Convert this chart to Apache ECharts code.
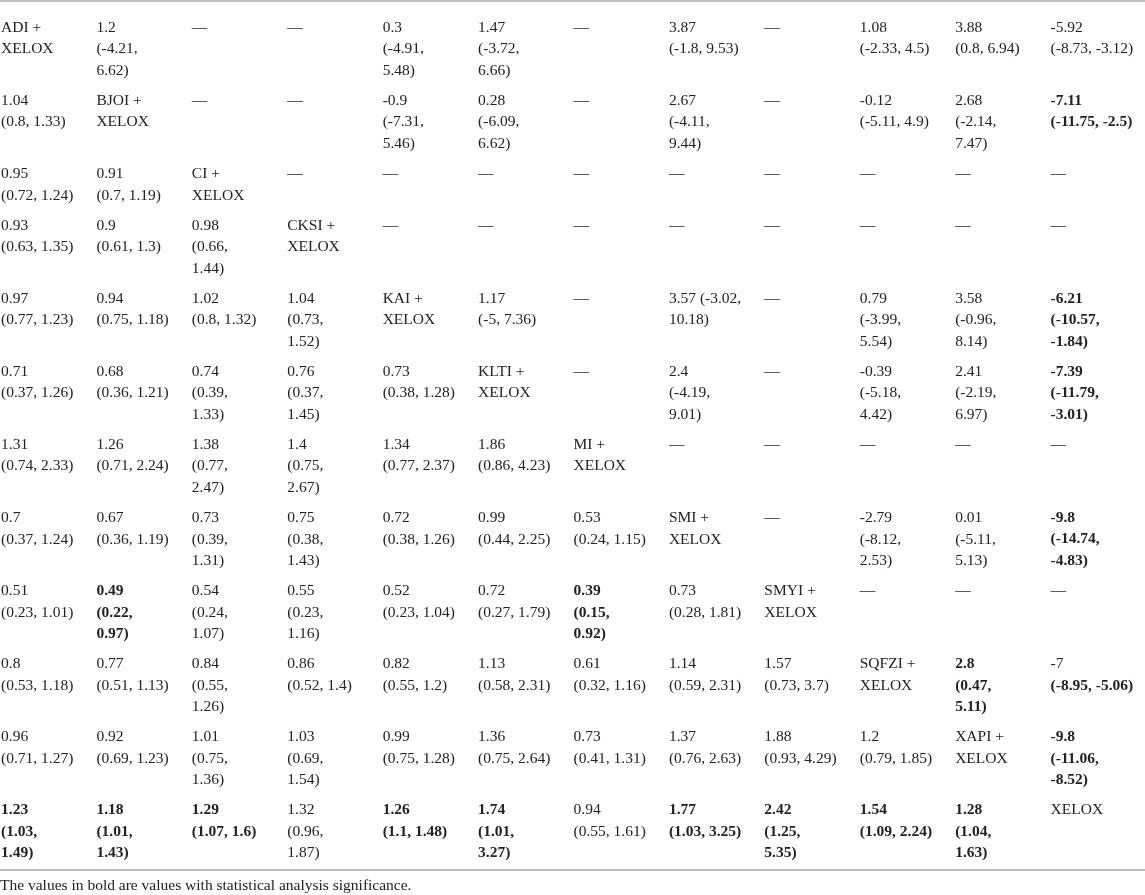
<!DOCTYPE html>
<html>
<head>
<meta charset="utf-8">
<script src="https://cdn.jsdelivr.net/npm/echarts@6.0.0/dist/echarts.min.js"></script>
<style>
html, body { margin: 0; padding: 0; background: #fff; }
#main { width: 1145px; height: 895px; }
</style>
</head>
<body>
<div id="main"></div>
<script>
// 方案名称（列顺序）
const regimens = ['ADI', 'BJOI', 'CI', 'CKSI', 'KAI', 'KLTI', 'MI', 'SMI', 'SMYI', 'SQFZI', 'XAPI', 'XELOX']

// 表格各行，对角线为方案名称，换行按原表
const row0 = ['ADI +\nXELOX', '1.2\n(-4.21,\n6.62)', '—', '—', '0.3\n(-4.91,\n5.48)', '1.47\n(-3.72,\n6.66)', '—', '3.87\n(-1.8, 9.53)', '—', '1.08\n(-2.33, 4.5)', '3.88\n(0.8, 6.94)', '-5.92\n(-8.73, -3.12)']
const row1 = ['1.04\n(0.8, 1.33)', 'BJOI +\nXELOX', '—', '—', '-0.9\n(-7.31,\n5.46)', '0.28\n(-6.09,\n6.62)', '—', '2.67\n(-4.11,\n9.44)', '—', '-0.12\n(-5.11, 4.9)', '2.68\n(-2.14,\n7.47)', '-7.11\n(-11.75, -2.5)']
const row2 = ['0.95\n(0.72, 1.24)', '0.91\n(0.7, 1.19)', 'CI +\nXELOX', '—', '—', '—', '—', '—', '—', '—', '—', '—']
const row3 = ['0.93\n(0.63, 1.35)', '0.9\n(0.61, 1.3)', '0.98\n(0.66,\n1.44)', 'CKSI +\nXELOX', '—', '—', '—', '—', '—', '—', '—', '—']
const row4 = ['0.97\n(0.77, 1.23)', '0.94\n(0.75, 1.18)', '1.02\n(0.8, 1.32)', '1.04\n(0.73,\n1.52)', 'KAI +\nXELOX', '1.17\n(-5, 7.36)', '—', '3.57 (-3.02,\n10.18)', '—', '0.79\n(-3.99,\n5.54)', '3.58\n(-0.96,\n8.14)', '-6.21\n(-10.57,\n-1.84)']
const row5 = ['0.71\n(0.37, 1.26)', '0.68\n(0.36, 1.21)', '0.74\n(0.39,\n1.33)', '0.76\n(0.37,\n1.45)', '0.73\n(0.38, 1.28)', 'KLTI +\nXELOX', '—', '2.4\n(-4.19,\n9.01)', '—', '-0.39\n(-5.18,\n4.42)', '2.41\n(-2.19,\n6.97)', '-7.39\n(-11.79,\n-3.01)']
const row6 = ['1.31\n(0.74, 2.33)', '1.26\n(0.71, 2.24)', '1.38\n(0.77,\n2.47)', '1.4\n(0.75,\n2.67)', '1.34\n(0.77, 2.37)', '1.86\n(0.86, 4.23)', 'MI +\nXELOX', '—', '—', '—', '—', '—']
const row7 = ['0.7\n(0.37, 1.24)', '0.67\n(0.36, 1.19)', '0.73\n(0.39,\n1.31)', '0.75\n(0.38,\n1.43)', '0.72\n(0.38, 1.26)', '0.99\n(0.44, 2.25)', '0.53\n(0.24, 1.15)', 'SMI +\nXELOX', '—', '-2.79\n(-8.12,\n2.53)', '0.01\n(-5.11,\n5.13)', '-9.8\n(-14.74,\n-4.83)']
const row8 = ['0.51\n(0.23, 1.01)', '0.49\n(0.22,\n0.97)', '0.54\n(0.24,\n1.07)', '0.55\n(0.23,\n1.16)', '0.52\n(0.23, 1.04)', '0.72\n(0.27, 1.79)', '0.39\n(0.15,\n0.92)', '0.73\n(0.28, 1.81)', 'SMYI +\nXELOX', '—', '—', '—']
const row9 = ['0.8\n(0.53, 1.18)', '0.77\n(0.51, 1.13)', '0.84\n(0.55,\n1.26)', '0.86\n(0.52, 1.4)', '0.82\n(0.55, 1.2)', '1.13\n(0.58, 2.31)', '0.61\n(0.32, 1.16)', '1.14\n(0.59, 2.31)', '1.57\n(0.73, 3.7)', 'SQFZI +\nXELOX', '2.8\n(0.47,\n5.11)', '-7\n(-8.95, -5.06)']
const row10 = ['0.96\n(0.71, 1.27)', '0.92\n(0.69, 1.23)', '1.01\n(0.75,\n1.36)', '1.03\n(0.69,\n1.54)', '0.99\n(0.75, 1.28)', '1.36\n(0.75, 2.64)', '0.73\n(0.41, 1.31)', '1.37\n(0.76, 2.63)', '1.88\n(0.93, 4.29)', '1.2\n(0.79, 1.85)', 'XAPI +\nXELOX', '-9.8\n(-11.06,\n-8.52)']
const row11 = ['1.23\n(1.03,\n1.49)', '1.18\n(1.01,\n1.43)', '1.29\n(1.07, 1.6)', '1.32\n(0.96,\n1.87)', '1.26\n(1.1, 1.48)', '1.74\n(1.01,\n3.27)', '0.94\n(0.55, 1.61)', '1.77\n(1.03, 3.25)', '2.42\n(1.25,\n5.35)', '1.54\n(1.09, 2.24)', '1.28\n(1.04,\n1.63)', 'XELOX']

const rows = [row0, row1, row2, row3, row4, row5, row6, row7, row8, row9, row10, row11]

// 有统计学意义（加粗）的单元格 [行, 列]
const sigCells = [[1, 11], [4, 11], [5, 11], [7, 11], [8, 1], [8, 6], [9, 10], [10, 11],
    [11, 0], [11, 1], [11, 2], [11, 4], [11, 5], [11, 7], [11, 8], [11, 9], [11, 10]]
// 只有置信区间加粗
const sigCiOnly = [[9, 11]]

const footnote = 'The values in bold are values with statistical analysis significance.'

const LINE_H = 21.5
const ROW_PAD = 8.6
const FIRST_TOP = 16
const FONT = '"Liberation Serif", "DejaVu Serif", serif'

// 每行顶部位置，按行内最多行数累加
const rowTops = []
let acc = FIRST_TOP
rows.forEach(r => {
    rowTops.push(acc)
    const n = Math.max(...r.map(c => c.split('\n').length))
    acc += n * LINE_H + ROW_PAD
})

const has = (list, i, j) => list.some(p => p[0] === i && p[1] === j)

const cellData = []
rows.forEach((r, i) => r.forEach((c, j) => cellData.push([j, rowTops[i], i])))

const myChart = echarts.init(document.getElementById('main'))
const option = {
    backgroundColor: '#fff',
    animation: false,
    title: {
        text: footnote,
        left: 0,
        top: 878,
        padding: 0,
        textStyle: { fontFamily: FONT, fontSize: 15.5, fontWeight: 'normal', color: '#222' }
    },
    grid: { left: 0, right: 0, top: 1, bottom: 25 },
    xAxis: [{
        type: 'category',
        data: regimens,
        position: 'top',
        axisLine: { show: true, lineStyle: { color: '#bdbdbd', width: 2 } },
        axisTick: { show: false },
        axisLabel: { show: false }
    }, {
        type: 'category',
        data: regimens,
        position: 'bottom',
        axisLine: { show: true, lineStyle: { color: '#bdbdbd', width: 2 } },
        axisTick: { show: false },
        axisLabel: { show: false }
    }],
    yAxis: {
        type: 'value',
        inverse: true,
        min: 0,
        max: 869,
        show: false,
        splitLine: { show: false }
    },
    series: [{
        type: 'custom',
        xAxisIndex: 0,
        data: cellData,
        silent: true,
        renderItem: function (params, api) {
            const j = api.value(0)
            const top = api.value(1)
            const i = api.value(2)
            const band = api.size([1, 0])[0]
            const lines = rows[i][j].split('\n')
            const bold = has(sigCells, i, j)
            const ciOnly = has(sigCiOnly, i, j)
            return {
                type: 'group',
                children: lines.map((l, k) => {
                    const p = api.coord([j, top + k * LINE_H])
                    const b = bold || (ciOnly && k > 0)
                    return {
                        type: 'text',
                        style: {
                            x: p[0] - band / 2 + 1,
                            y: p[1],
                            text: l,
                            fontFamily: FONT,
                            fontSize: 15.5,
                            fontWeight: b ? 'bold' : 'normal',
                            lineHeight: LINE_H,
                            fill: '#222',
                            align: 'left',
                            verticalAlign: 'top'
                        }
                    }
                })
            }
        }
    }]
}
myChart.setOption(option)
</script>
</body>
</html>
